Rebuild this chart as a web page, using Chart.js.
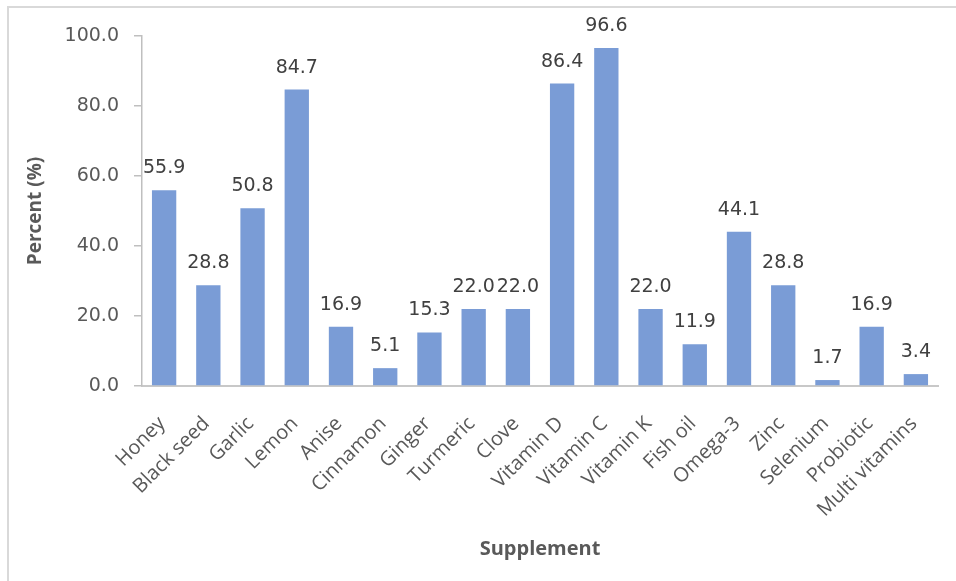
<!DOCTYPE html>
<html>
<head>
<meta charset="utf-8">
<script src="https://cdn.jsdelivr.net/npm/chart.js@4.4.1/dist/chart.umd.min.js"></script>
<style>
  html, body { margin: 0; padding: 0; background: #ffffff; }
  #wrap { position: relative; width: 956px; height: 581px; overflow: hidden; }
  #frame { position: absolute; left: 7px; top: 6px; width: 1000px; height: 1000px;
           border-left: 2px solid #d9d9d9; border-top: 2px solid #d9d9d9; pointer-events: none; }
  canvas { position: absolute; left: 0; top: 0; }
</style>
</head>
<body>
<div id="wrap">
  <canvas id="chart" width="956" height="581"></canvas>
  <div id="frame"></div>
</div>
<script>
// Share of respondents using each supplement
const supplements = ['Honey', 'Black seed', 'Garlic', 'Lemon', 'Anise', 'Cinnamon', 'Ginger',
  'Turmeric', 'Clove', 'Vitamin D', 'Vitamin C', 'Vitamin K', 'Fish oil', 'Omega-3', 'Zinc',
  'Selenium', 'Probiotic', 'Multi vitamins'];
const percentValues = [55.9, 28.8, 50.8, 84.7, 16.9, 5.1, 15.3, 22.0, 22.0, 86.4, 96.6, 22.0,
  11.9, 44.1, 28.8, 1.7, 16.9, 3.4];
const yTickValues = [0, 20, 40, 60, 80, 100];

const FONT = '"Open Sans", "Liberation Sans", sans-serif';
const NUM_FONT = '"DejaVu Sans", "Open Sans", sans-serif';

// Value printed above each bar
const barValueLabels = {
  id: 'barValueLabels',
  afterDatasetsDraw(chart) {
    const ctx = chart.ctx;
    const meta = chart.getDatasetMeta(0);
    ctx.save();
    ctx.font = '19px ' + NUM_FONT;
    ctx.fillStyle = '#404040';
    ctx.textAlign = 'center';
    ctx.textBaseline = 'alphabetic';
    meta.data.forEach((bar, i) => {
      ctx.fillText(percentValues[i].toFixed(1), bar.x, bar.y - 17);
    });
    ctx.restore();
  }
};

new Chart(document.getElementById('chart'), {
  type: 'bar',
  data: {
    labels: supplements,
    datasets: [{
      data: percentValues,
      backgroundColor: '#7a9cd6',
      borderWidth: 0,
      categoryPercentage: 1.0,
      barPercentage: 0.55
    }]
  },
  options: {
    responsive: false,
    animation: false,
    devicePixelRatio: 1,
    layout: { padding: { left: 10, right: 18, top: 36, bottom: 0 } },
    plugins: {
      legend: { display: false },
      tooltip: { enabled: false }
    },
    scales: {
      x: {
        grid: { display: false },
        border: { display: true, color: '#c8c8c8', width: 2 },
        ticks: {
          color: '#595959',
          font: { family: FONT, size: 20 },
          minRotation: 45,
          maxRotation: 45,
          autoSkip: false,
          padding: 18,
          labelOffset: -2
        },
        title: {
          display: true,
          text: 'Supplement',
          color: '#595959',
          font: { family: FONT, size: 20, weight: 'bold' },
          padding: { top: 0, bottom: 20 }
        },
        afterFit(scale) { scale.height = 581 - 386; }
      },
      y: {
        min: 0,
        max: 100,
        afterBuildTicks(scale) { scale.ticks = yTickValues.map(v => ({ value: v })); },
        grid: {
          display: true,
          drawOnChartArea: false,
          drawTicks: true,
          tickLength: 8,
          color: '#bfbfbf',
          lineWidth: 1.5
        },
        border: { display: true, color: '#bfbfbf', width: 1.5 },
        ticks: {
          color: '#595959',
          font: { family: NUM_FONT, size: 19 },
          padding: 15,
          callback: v => Number(v).toFixed(1)
        },
        title: {
          display: true,
          text: 'Percent (%)',
          color: '#595959',
          font: { family: FONT, size: 19, weight: 'bold' },
          padding: { top: 14, bottom: 0 }
        },
        afterFit(scale) { scale.width = 142 - 10; }
      }
    }
  },
  plugins: [barValueLabels]
});
</script>
</body>
</html>
